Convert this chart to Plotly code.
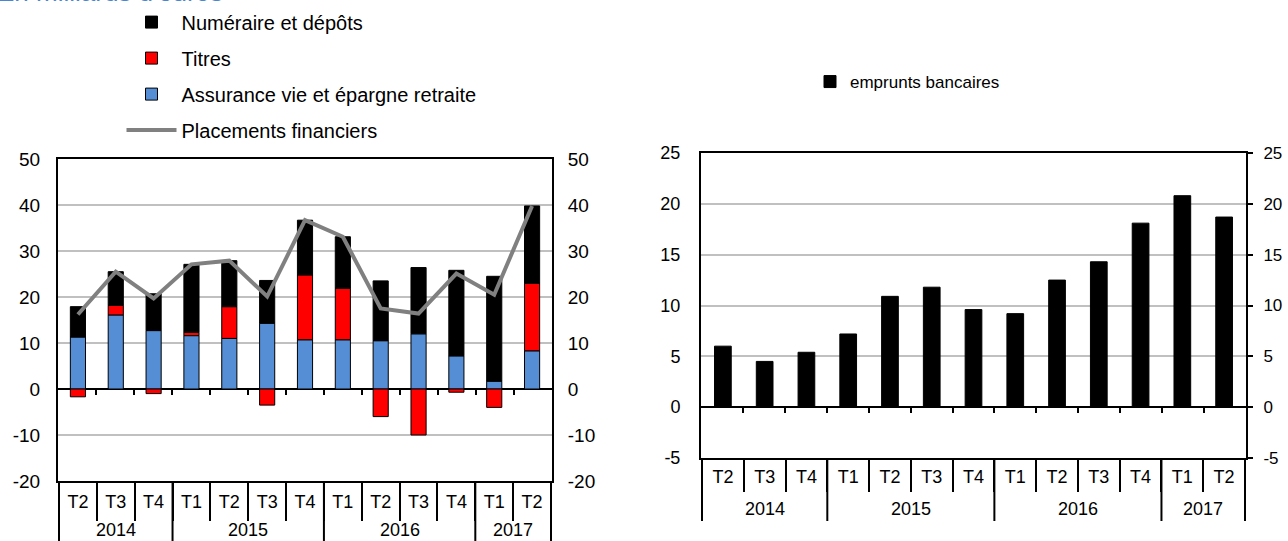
import plotly.graph_objects as go

# ---------------- data ----------------
years = ["2014"] * 3 + ["2015"] * 4 + ["2016"] * 4 + ["2017"] * 2
quarters = ["T2", "T3", "T4", "T1", "T2", "T3", "T4", "T1", "T2", "T3", "T4", "T1", "T2"]

assurance = [11.3, 16.1, 12.7, 11.6, 11.0, 14.3, 10.7, 10.7, 10.5, 12.0, 7.2, 1.7, 8.3]
titres = [-1.7, 2.1, -1.0, 0.7, 6.9, -3.5, 14.1, 11.2, -6.0, -10.0, -0.7, -4.0, 14.7]
numeraire = [6.6, 7.3, 8.0, 14.8, 10.0, 9.3, 11.9, 11.2, 13.0, 14.4, 18.6, 22.8, 16.8]
placements = [16.2, 25.5, 19.7, 27.1, 27.9, 20.1, 36.7, 33.1, 17.5, 16.4, 25.1, 20.5, 39.8]

emprunts = [6.0, 4.5, 5.4, 7.2, 10.9, 11.8, 9.6, 9.2, 12.5, 14.3, 18.1, 20.8, 18.7]

title_text = "En milliards d'euros"

left_ticks = [-20, -10, 0, 10, 20, 30, 40, 50]
right_ticks = [-5, 0, 5, 10, 15, 20, 25]
left_range = [left_ticks[0], left_ticks[-1]]
right_range = [right_ticks[0], right_ticks[-1]]

# ---------------- layout geometry ----------------
W, H = 1288, 541
L_dom_x = [58 / W, 552 / W]
L_dom_y = [(H - 481) / H, (H - 159) / H]
R_dom_x = [701 / W, 1246 / W]
R_dom_y = [(H - 458) / H, (H - 153) / H]
TITLE_STRIP = 12  # px strip at top in which the (cut) title is visible


def zero_pos(dom, rng):
    return dom[0] + (0 - rng[0]) / (rng[1] - rng[0]) * (dom[1] - dom[0])


FONT = "Arial, Liberation Sans, sans-serif"
keys = [f"{y} {q}" for y, q in zip(years, quarters)]
n = len(keys)

# year groups (derived from the years list)
groups = []
start = 0
for i in range(1, n + 1):
    if i == n or years[i] != years[start]:
        groups.append((years[start], start, i - 1))
        start = i

fig = go.Figure()

# left chart stacked bars
fig.add_trace(go.Bar(x=keys, y=assurance, name="Assurance vie et épargne retraite",
                     marker=dict(color="#558ED5", line=dict(color="black", width=1)),
                     xaxis="x", yaxis="y", legend="legend", legendrank=3,
                     legendgroup="c"))
fig.add_trace(go.Bar(x=keys, y=titres, name="Titres",
                     marker=dict(color="#FF0000", line=dict(color="black", width=1)),
                     xaxis="x", yaxis="y", legend="legend", legendrank=2,
                     legendgroup="b"))
fig.add_trace(go.Bar(x=keys, y=numeraire, name="Numéraire et dépôts",
                     marker=dict(color="#000000", line=dict(color="black", width=1)),
                     xaxis="x", yaxis="y", legend="legend", legendrank=1,
                     legendgroup="a"))
fig.add_trace(go.Scatter(x=keys, y=placements, name="Placements financiers",
                         mode="lines", line=dict(color="#808080", width=4),
                         xaxis="x", yaxis="y", legend="legend", legendrank=4,
                         legendgroup="d"))
# helper traces so that mirror axes are drawn
fig.add_trace(go.Scatter(x=keys, y=[None] * n, xaxis="x", yaxis="y3",
                         showlegend=False, hoverinfo="skip", mode="lines"))
fig.add_trace(go.Scatter(x=[None], y=[None], xaxis="x3", yaxis="y",
                         showlegend=False, hoverinfo="skip", mode="lines"))

# right chart
fig.add_trace(go.Bar(x=keys, y=emprunts, name="emprunts bancaires",
                     marker=dict(color="#000000", line=dict(color="black", width=1)),
                     xaxis="x2", yaxis="y2", legend="legend2"))
fig.add_trace(go.Scatter(x=keys, y=[None] * n, xaxis="x2", yaxis="y4",
                         showlegend=False, hoverinfo="skip", mode="lines"))
fig.add_trace(go.Scatter(x=[None], y=[None], xaxis="x4", yaxis="y2",
                         showlegend=False, hoverinfo="skip", mode="lines"))

# title, cut at the top edge as in the source (clipped by a thin strip subplot)
fig.add_trace(go.Scatter(x=[-3], y=[TITLE_STRIP - 4 + 0.35 * 26], text=[title_text],
                         mode="text", textposition="middle right",
                         textfont=dict(family=FONT, size=26, color="#4A86D0"),
                         cliponaxis=True, showlegend=False, hoverinfo="skip",
                         xaxis="x5", yaxis="y5"))


def cat_axis(ticklen, standoff):
    return dict(type="category", categoryorder="array", categoryarray=keys,
                tickvals=keys, ticktext=quarters,
                showline=True, linecolor="black", linewidth=2, mirror=True,
                ticks="outside", tickson="boundaries", ticklen=ticklen,
                tickcolor="black", tickwidth=2, ticklabelstandoff=standoff,
                showgrid=False, fixedrange=True,
                tickfont=dict(family=FONT, size=18, color="black"))


def val_ticks(tv):
    return dict(tickmode="array", tickvals=tv, ticktext=[str(v) for v in tv])


tick_axis = dict(type="linear", range=[-0.5, n - 0.5], anchor="free",
                 tickvals=[i + 0.5 for i in range(n - 1)], ticks="outside",
                 ticklen=5, tickwidth=2, tickcolor="black", showticklabels=False,
                 showgrid=False, zeroline=False, showline=False)

hidden = dict(visible=False, showgrid=False, zeroline=False, showline=False,
              showticklabels=False, ticks="", fixedrange=True)

shapes = []
annotations = []
for (xa, dom_y, div_bottom, year_y) in [("x", L_dom_y, 0, 530), ("x2", R_dom_y, 20, 509)]:
    bounds = [-0.5] + [g[2] + 0.5 for g in groups]
    for b in bounds:
        shapes.append(dict(type="line", xref=xa, yref="paper", x0=b, x1=b,
                           y0=dom_y[0], y1=div_bottom / H,
                           line=dict(color="black", width=2)))
    for (label, a, b) in groups:
        annotations.append(dict(text=label, xref=xa, yref="paper", x=(a + b) / 2,
                                y=(H - year_y) / H, xanchor="center", yanchor="middle",
                                showarrow=False,
                                font=dict(family=FONT, size=18, color="black")))

fig.update_layout(
    width=W, height=H,
    margin=dict(l=0, r=0, t=0, b=0, autoexpand=False),
    paper_bgcolor="white", plot_bgcolor="white",
    barmode="relative", bargap=0.6,
    font=dict(family=FONT, color="black"),
    hovermode=False,
    xaxis=dict(domain=L_dom_x, anchor="y", **cat_axis(38, 3)),
    xaxis2=dict(domain=R_dom_x, anchor="y2", **cat_axis(32, 1)),
    xaxis3=dict(overlaying="x", position=zero_pos(L_dom_y, left_range), **tick_axis),
    xaxis4=dict(overlaying="x2", position=zero_pos(R_dom_y, right_range), **tick_axis),
    xaxis5=dict(domain=[0, 0.5], anchor="y5", range=[0, W / 2], **hidden),
    yaxis5=dict(domain=[(H - TITLE_STRIP) / H, 1], anchor="x5",
                range=[0, TITLE_STRIP], **hidden),
    yaxis=dict(domain=L_dom_y, anchor="x", range=left_range, **val_ticks(left_ticks),
               showline=True, linecolor="black", linewidth=2,
               showgrid=True, gridcolor="#C0C0C0", gridwidth=2,
               zeroline=True, zerolinecolor="black", zerolinewidth=2,
               ticks="", ticklabelstandoff=12,
               tickfont=dict(family=FONT, size=19, color="black")),
    yaxis3=dict(overlaying="y", side="right", anchor="x", range=left_range,
                **val_ticks(left_ticks),
                showline=True, linecolor="black", linewidth=2, showgrid=False,
                zeroline=False, ticks="", ticklabelstandoff=10,
                tickfont=dict(family=FONT, size=19, color="black")),
    yaxis2=dict(domain=R_dom_y, anchor="x2", range=right_range, **val_ticks(right_ticks),
                showline=True, linecolor="black", linewidth=2,
                showgrid=True, gridcolor="#C0C0C0", gridwidth=2,
                zeroline=True, zerolinecolor="black", zerolinewidth=2,
                ticks="", ticklabelstandoff=15,
                tickfont=dict(family=FONT, size=18, color="black")),
    yaxis4=dict(overlaying="y2", side="right", anchor="x2", range=right_range,
                **val_ticks(right_ticks),
                showline=True, linecolor="black", linewidth=2, showgrid=False,
                zeroline=False, ticks="outside", ticklen=5, tickwidth=2,
                tickcolor="black", ticklabelstandoff=7,
                tickfont=dict(family=FONT, size=17, color="black")),
    legend=dict(x=121.5 / W, y=1 - 2.6 / H, xanchor="left", yanchor="top",
                bgcolor="rgba(0,0,0,0)", font=dict(family=FONT, size=20, color="black"),
                tracegroupgap=7, itemwidth=50, traceorder="grouped"),
    legend2=dict(x=810 / W, y=1 - 64 / H, xanchor="left", yanchor="top",
                 bgcolor="rgba(0,0,0,0)", font=dict(family=FONT, size=17, color="black"),
                 itemwidth=30),
    shapes=shapes,
    annotations=annotations,
)

fig.write_html("out.html",
               config={"displayModeBar": False},
               post_script="document.body.style.margin='0';"
                           "document.body.style.padding='0';")
